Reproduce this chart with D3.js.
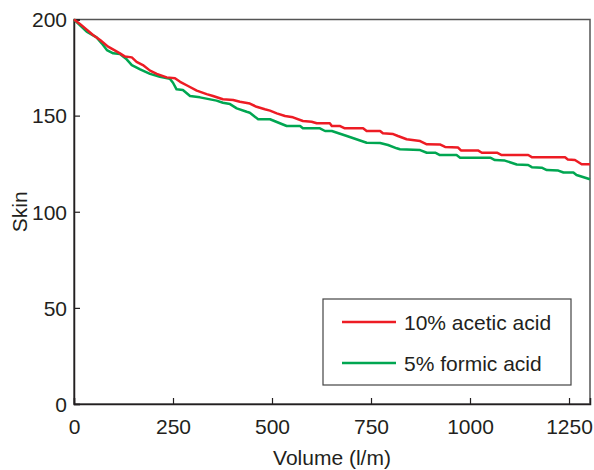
<!DOCTYPE html>
<html>
<head>
<meta charset="utf-8">
<script src="https://cdnjs.cloudflare.com/ajax/libs/d3/7.8.5/d3.min.js"></script>
<style>
    body { margin: 0; background: #fff; }
    text { font-family: "Liberation Sans", Arial, sans-serif; fill: #231f20; }
</style>
</head>
<body>
<div id="chart"></div>
<script>
// values: volume (l/m) vs skin
let acetic_x = [0, 15, 48, 66, 86, 104, 116, 129, 146, 158, 174, 192, 209, 234, 255, 268, 288, 310, 335, 351, 376, 402, 419, 444, 461, 482, 495, 512, 533, 553, 578, 600, 613, 646, 651, 672, 684, 730, 739, 773, 780, 806, 818, 840, 874, 891, 924, 937, 970, 977, 1020, 1030, 1068, 1080, 1147, 1157, 1240, 1247, 1265, 1282, 1303];
let acetic_y = [200, 197.7, 191.9, 189.3, 185.9, 183.8, 182.4, 180.7, 180.3, 178.0, 176.3, 173.4, 171.7, 169.9, 169.4, 167.6, 165.4, 163.0, 161.2, 160.2, 158.5, 158.1, 157.2, 156.3, 154.6, 153.3, 152.6, 151.2, 149.8, 149.1, 147.2, 146.8, 146.0, 146.0, 144.6, 144.6, 143.4, 143.4, 142.0, 142.0, 140.8, 140.4, 139.4, 137.7, 136.8, 135.1, 135.0, 133.7, 133.4, 131.9, 131.9, 130.7, 130.7, 129.5, 129.5, 128.3, 128.3, 127.2, 126.9, 124.7, 124.7];

let formic_x = [0, 32, 57, 70, 83, 99, 116, 133, 146, 167, 192, 217, 242, 250, 259, 275, 293, 318, 360, 376, 394, 411, 436, 444, 465, 495, 537, 571, 578, 621, 634, 651, 689, 739, 773, 793, 815, 823, 874, 891, 912, 924, 966, 975, 1051, 1063, 1088, 1118, 1147, 1156, 1181, 1194, 1223, 1236, 1261, 1269, 1303];
let formic_y = [200, 193.7, 190.7, 187.6, 184.1, 182.4, 182.1, 179.3, 176.3, 174.1, 171.7, 170.2, 169.2, 167.1, 163.7, 163.3, 160.2, 159.5, 157.8, 156.7, 156.0, 153.8, 152.0, 151.5, 148.1, 148.1, 144.6, 144.6, 143.4, 143.4, 142.0, 142.0, 139.4, 135.9, 135.8, 134.7, 133.0, 132.5, 132.1, 130.7, 130.7, 129.5, 129.5, 128.1, 128.1, 126.9, 126.6, 124.6, 124.3, 123.2, 122.9, 121.7, 121.4, 120.4, 120.4, 119.1, 116.9];

let series_names = ["10% acetic acid", "5% formic acid"];
let series_colors = ["#ed1c24", "#00a651"];
let x_ticks = [0, 250, 500, 750, 1000, 1250];
let y_ticks = [0, 50, 100, 150, 200];

let width = 594, height = 470;
let margin = {left: 74, top: 19.5, right: 4, bottom: 66};
let font_size = "21px";

let svg = d3.select("#chart").append("svg")
    .attr("width", width)
    .attr("height", height);

let x = d3.scaleLinear().domain([0, 1303]).range([margin.left, width - margin.right]);
let y = d3.scaleLinear().domain([0, 200]).range([height - margin.bottom, margin.top]);

// box
svg.append("rect")
    .attr("x", x(0))
    .attr("y", y(200))
    .attr("width", x(1303) - x(0))
    .attr("height", y(0) - y(200))
    .style("fill", "none")
    .style("stroke", "#555")
    .style("stroke-width", 1.5);

let xAxis = svg.append("g")
    .attr("transform", "translate(0," + y(0) + ")")
    .call(d3.axisBottom(x).tickValues(x_ticks).tickFormat(d3.format("d")).tickSize(-6).tickPadding(15));
let yAxis = svg.append("g")
    .attr("transform", "translate(" + x(0) + ",0)")
    .call(d3.axisLeft(y).tickValues(y_ticks).tickFormat(d3.format("d")).tickSize(-6).tickPadding(7));

[xAxis, yAxis].forEach(function (g) {
    g.select(".domain").style("stroke", "#231f20").style("stroke-width", 1.5);
    g.selectAll(".tick line").style("stroke", "#231f20").style("stroke-width", 1.2);
    g.selectAll(".tick text")
        .style("font-family", "Liberation Sans, Arial, sans-serif")
        .style("font-size", font_size)
        .style("fill", "#231f20");
});
yAxis.selectAll(".tick text").attr("dy", "0.35em");

// axis titles
svg.append("text")
    .attr("x", (x(0) + x(1303)) / 2)
    .attr("y", 465)
    .attr("text-anchor", "middle")
    .style("font-size", font_size)
    .text("Volume (l/m)");

svg.append("text")
    .attr("transform", "translate(27," + (y(0) + y(200)) / 2 + ") rotate(-90)")
    .attr("text-anchor", "middle")
    .style("font-size", font_size)
    .text("Skin");

// lines
let line = d3.line()
    .x(function (d) { return x(d[0]); })
    .y(function (d) { return y(d[1]); });

let series = [d3.zip(acetic_x, acetic_y), d3.zip(formic_x, formic_y)];
for (let i = series.length - 1; i >= 0; i--) {
    svg.append("path")
        .datum(series[i])
        .attr("d", line)
        .style("fill", "none")
        .style("stroke", series_colors[i])
        .style("stroke-width", 2.5)
        .style("stroke-linejoin", "round");
}

// legend
let legend = svg.append("g");
legend.append("rect")
    .attr("x", 323)
    .attr("y", 299)
    .attr("width", 248)
    .attr("height", 86)
    .style("fill", "#fff")
    .style("stroke", "#444")
    .style("stroke-width", 1.2);

for (let i = 0; i < series_names.length; i++) {
    let ly = 322 + i * 41;
    legend.append("line")
        .attr("x1", 342)
        .attr("x2", 396)
        .attr("y1", ly)
        .attr("y2", ly)
        .style("stroke", series_colors[i])
        .style("stroke-width", 2.5);
    legend.append("text")
        .attr("x", 404)
        .attr("y", ly + 8)
        .style("font-size", font_size)
        .text(series_names[i]);
}
</script>
</body>
</html>
